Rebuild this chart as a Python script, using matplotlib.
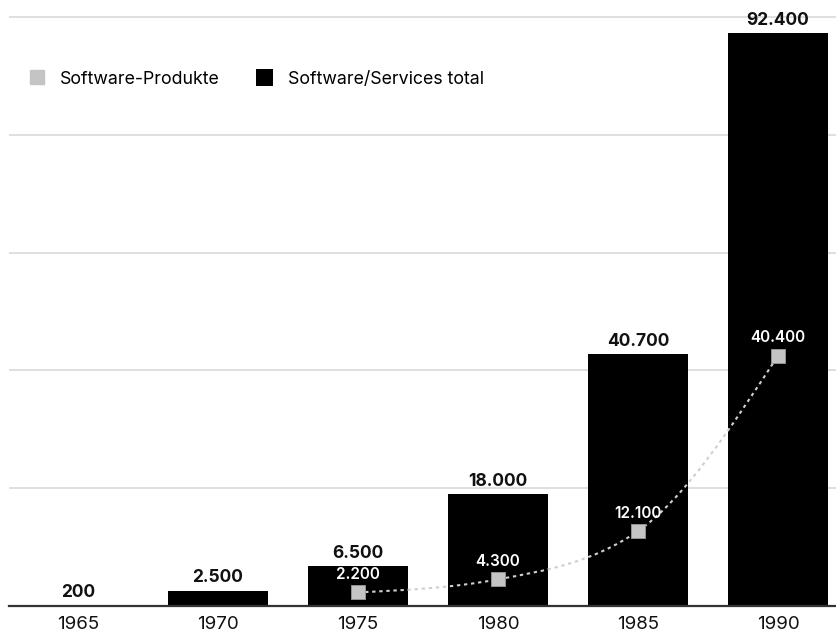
import numpy as np
import matplotlib.pyplot as plt
from matplotlib.path import Path
from matplotlib.patches import PathPatch, Patch
from matplotlib.lines import Line2D

plt.rcParams["font.family"] = ["Inter", "DejaVu Sans"]

# Umsatz in Mio. DM
years = ["1965", "1970", "1975", "1980", "1985", "1990"]
total = [200, 2500, 6500, 18000, 40700, 92400]
produkt_years = ["1975", "1980", "1985", "1990"]
produkte = [2200, 4300, 12100, 40400]

grid_step = 19000
fmt = lambda v: f"{v:,}".replace(",", ".")


def monotone_path(xs, ys):
    """Glatte monotone Kurve (wie d3.curveMonotoneX) als Bezier-Pfad."""
    xs = np.asarray(xs, float)
    ys = np.asarray(ys, float)
    n = len(xs)
    h = np.diff(xs)
    s = np.diff(ys) / h
    t = np.zeros(n)
    for i in range(1, n - 1):
        p = (s[i - 1] * h[i] + s[i] * h[i - 1]) / (h[i - 1] + h[i])
        t[i] = (np.sign(s[i - 1]) + np.sign(s[i])) * min(abs(s[i - 1]), abs(s[i]), 0.5 * abs(p))
    t[0] = (3 * s[0] - t[1]) / 2
    t[-1] = (3 * s[-1] - t[-2]) / 2
    verts = [(xs[0], ys[0])]
    codes = [Path.MOVETO]
    for i in range(n - 1):
        dx = h[i] / 3
        verts += [(xs[i] + dx, ys[i] + dx * t[i]),
                  (xs[i + 1] - dx, ys[i + 1] - dx * t[i + 1]),
                  (xs[i + 1], ys[i + 1])]
        codes += [Path.CURVE4] * 3
    return Path(verts, codes)


fig = plt.figure(figsize=(8.37, 6.36), dpi=100)
ax = fig.add_axes([9 / 837, 30 / 636, 828 / 837, 606 / 636])

x = np.arange(len(years))
px = np.array([years.index(y) for y in produkt_years])

ax.set_xlim(-0.493, 5.421)
ax.set_ylim(0, 97770)

for gy in np.arange(grid_step, 97770, grid_step):
    ax.axhline(gy, color="#d6d6d6", lw=1.1, zorder=0)

ax.bar(x, total, width=0.71, color="black", zorder=2)
for xi, v in zip(x, total):
    ax.annotate(fmt(v), (xi, v), xytext=(0, 3), textcoords="offset points",
                ha="center", va="bottom", fontsize=12.5, fontweight="bold", color="#111111")

curve = PathPatch(monotone_path(px, produkte), fill=False, edgecolor="#cfcfcf",
                  lw=1.5, linestyle=(0, (1.6, 1.8)), zorder=3)
ax.add_patch(curve)
ax.scatter(px, produkte, marker="s", s=110, color="#c4c4c4", edgecolors="#9a9a9a",
           linewidths=0.6, zorder=4)
for xi, v in zip(px, produkte):
    ax.annotate(fmt(v), (xi, v), xytext=(0, 7.5), textcoords="offset points",
                ha="center", va="bottom", fontsize=11, fontweight="semibold", color="white", zorder=5)

for side in ["top", "right", "left"]:
    ax.spines[side].set_visible(False)
ax.spines["bottom"].set_color("#333333")
ax.spines["bottom"].set_linewidth(1.6)
ax.set_yticks([])
ax.set_xticks(x)
ax.set_xticklabels(years, fontsize=13.5, color="#111111")
ax.tick_params(axis="x", length=0, pad=7)

handles = [
    Line2D([], [], marker="s", markersize=10, color="#c4c4c4", markeredgecolor="#c4c4c4", ls="none"),
    Patch(facecolor="black"),
]
ax.legend(handles, ["Software-Produkte", "Software/Services total"], loc="upper left",
          bbox_to_anchor=(0.004, 0.912), ncol=2, frameon=False, fontsize=12.8,
          handlelength=1.0, handleheight=1.1, handletextpad=0.8, columnspacing=2.0)

fig.savefig("out.png", dpi=100, facecolor="white")
